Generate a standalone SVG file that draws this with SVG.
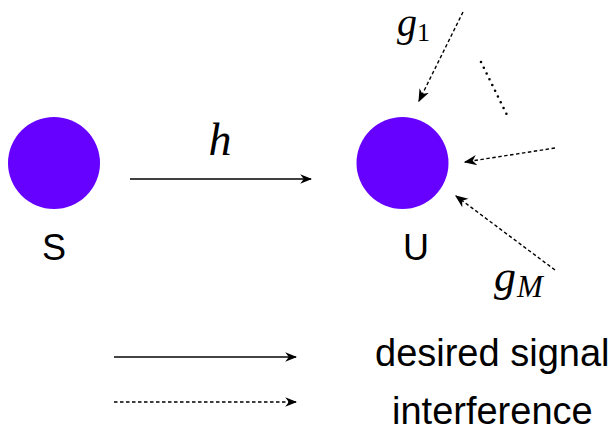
<svg xmlns="http://www.w3.org/2000/svg" width="613" height="440" viewBox="0 0 613 440">
<defs>
<marker id="ah" viewBox="0 0 10 10" refX="9" refY="5" markerWidth="12" markerHeight="12" markerUnits="userSpaceOnUse" orient="auto"><path d="M0,1 L10,5 L0,9 L3,5 Z" fill="#000"/></marker>
<marker id="ah2" viewBox="0 0 10 10" refX="9" refY="5" markerWidth="13" markerHeight="13" markerUnits="userSpaceOnUse" orient="auto"><path d="M0,1 L10,5 L0,9 L3,5 Z" fill="#000"/></marker>
</defs>
<style>
.node{fill:#6600ff}
.lbl{font-family:"Liberation Sans",Arial,sans-serif;font-size:36px;fill:#000}
.leg{font-family:"Liberation Sans",Arial,sans-serif;font-size:38px;fill:#000}
.math{font-family:"Liberation Serif","Times New Roman",serif;font-style:italic;fill:#000}
.solid{stroke:#000;stroke-width:1.5;fill:none}
.dash{stroke:#000;stroke-width:1.4;stroke-dasharray:3.5,2.5;fill:none}
</style>
<rect width="613" height="440" fill="#fff"/>
<g id="node-S">
<circle class="node" cx="54" cy="163" r="46"/>
<text class="lbl" x="54" y="260" text-anchor="middle">S</text>
</g>
<g id="node-U">
<circle class="node" cx="402.5" cy="163" r="46"/>
<text class="lbl" x="416" y="260" text-anchor="middle">U</text>
</g>
<g id="connectors">
<line class="solid" x1="130" y1="179" x2="311" y2="179" marker-end="url(#ah)"/>
<text class="math" x="220" y="155" font-size="46" text-anchor="middle">h</text>
<line class="dash" x1="463" y1="12" x2="419" y2="101" marker-end="url(#ah2)"/>
<text class="math" x="397" y="36" font-size="40">g</text>
<text x="417" y="41" font-family="Liberation Serif, serif" font-size="26">1</text>
<line stroke="#000" stroke-width="2.6" stroke-linecap="round" stroke-dasharray="0,6.4" x1="481" y1="62" x2="508" y2="117"/>
<line class="dash" x1="555" y1="148" x2="465" y2="162" marker-end="url(#ah2)"/>
<line class="dash" x1="555" y1="270" x2="456" y2="196" marker-end="url(#ah2)"/>
<text class="math" x="494" y="291" font-size="44">g</text>
<text class="math" x="517" y="297" font-size="31">M</text>
</g>
<g id="legend">
<line stroke="#444" stroke-width="2" x1="114" y1="357" x2="296" y2="357" marker-end="url(#ah)"/>
<text class="leg" x="375" y="366">desired signal</text>
<line class="dash" x1="114" y1="402" x2="296" y2="402" marker-end="url(#ah)"/>
<text class="leg" x="392" y="424">interference</text>
</g>
</svg>
